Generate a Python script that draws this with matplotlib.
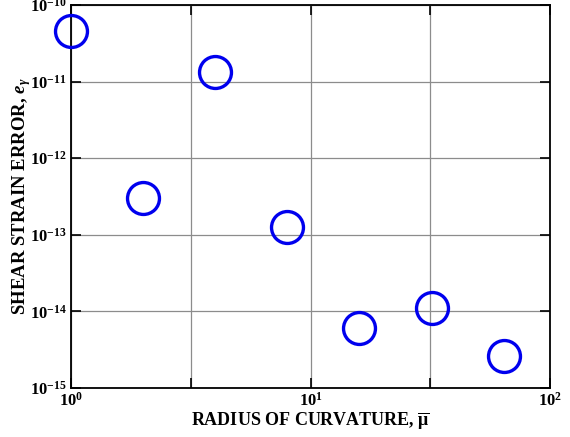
import numpy as np
import matplotlib
matplotlib.use("Agg")
import matplotlib.pyplot as plt
from matplotlib.ticker import FixedLocator, FixedFormatter, NullLocator

# radius of curvature and shear strain error
radius = [1, 2, 4, 8, 16, 32, 64]
strain_error = [4.6e-11, 3.0e-13, 1.35e-11, 1.28e-13, 6.1e-15, 1.12e-14, 2.65e-15]

x_ticks = [1, 10**0.5, 10, 10**1.5, 100]
x_labels = [r'$\mathregular{10^{0}}$', '', r'$\mathregular{10^{1}}$', '', r'$\mathregular{10^{2}}$']
y_ticks = [1e-15, 1e-14, 1e-13, 1e-12, 1e-11, 1e-10]
y_labels = [r'$\mathregular{10^{%d}}$' % p for p in range(-15, -9)]

plt.rcParams['font.family'] = 'Liberation Serif'
plt.rcParams['font.weight'] = 'bold'
plt.rcParams['mathtext.fontset'] = 'custom'
plt.rcParams['mathtext.rm'] = 'Liberation Serif:bold'
plt.rcParams['mathtext.it'] = 'Liberation Serif:italic:bold'
plt.rcParams['mathtext.bf'] = 'Liberation Serif:bold'

fig = plt.figure(figsize=(5.7, 4.37), dpi=100)
ax = fig.add_axes([0.1246, 0.112, 0.8404, 0.8766])

ax.plot(radius, strain_error, 'o', markersize=23, markerfacecolor='none',
        markeredgecolor='#0000ee', markeredgewidth=2.4, clip_on=False, zorder=5)

ax.set_xscale('log')
ax.set_yscale('log')
ax.set_xlim(1, 100)
ax.set_ylim(1e-15, 1e-10)

ax.xaxis.set_major_locator(FixedLocator(x_ticks))
ax.xaxis.set_major_formatter(FixedFormatter(x_labels))
ax.xaxis.set_minor_locator(NullLocator())
ax.yaxis.set_major_locator(FixedLocator(y_ticks))
ax.yaxis.set_major_formatter(FixedFormatter(y_labels))
ax.yaxis.set_minor_locator(NullLocator())

ax.tick_params(which='major', direction='in', length=7, width=1.2,
               top=True, right=True, labelsize=12, pad=3)
ax.grid(True, color='#8c8c8c', linewidth=0.9)
for s in ax.spines.values():
    s.set_linewidth(1.3)

ax.set_xlabel(r'RADIUS OF CURVATURE, $\overline{\mathregular{\mu}}$', fontsize=13,
              fontweight='bold', labelpad=0)
ax.set_ylabel(r'SHEAR STRAIN ERROR, $e_{\gamma}$', fontsize=13.5,
              fontweight='bold', labelpad=-2)

fig.savefig('out.png', dpi=100)
